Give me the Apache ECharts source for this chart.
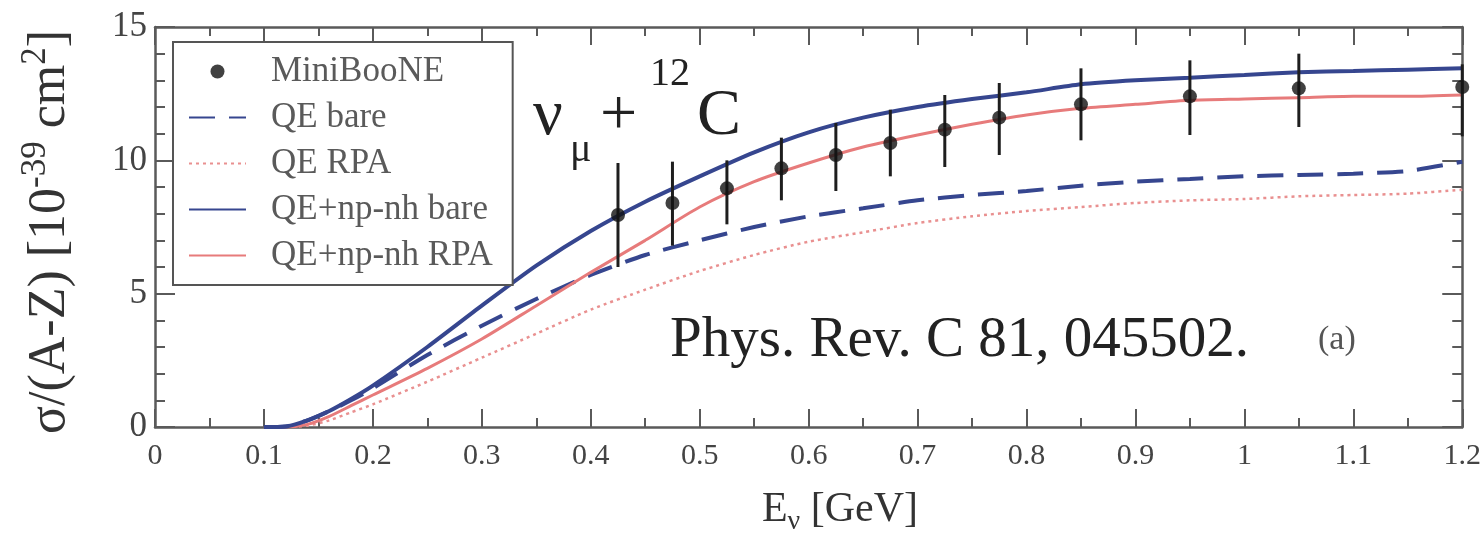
<!DOCTYPE html>
<html>
<head>
<meta charset="utf-8">
<script src="https://cdn.jsdelivr.net/npm/echarts@6/dist/echarts.min.js"></script>
<style>
  html, body { margin: 0; padding: 0; background: #ffffff; }
  #chart { width: 1484px; height: 541px; }
</style>
</head>
<body>
<div id="chart"></div>
<script>
// Neutrino energy grid [GeV] for the model curves
const energyGrid = [0.10, 0.12, 0.14, 0.16, 0.18, 0.20, 0.25, 0.30, 0.35, 0.40, 0.45, 0.50, 0.55,
                    0.60, 0.65, 0.70, 0.75, 0.80, 0.85, 0.90, 0.95, 1.00, 1.05, 1.10, 1.15, 1.20];

// Cross section per neutron, sigma/(A-Z) in 1e-39 cm^2
const qeBare     = [0.00, 0.02, 0.25, 0.60, 1.00, 1.45, 2.70, 3.80, 4.80, 5.70, 6.45, 7.00, 7.50,
                    7.90, 8.20, 8.50, 8.70, 8.85, 9.05, 9.20, 9.30, 9.40, 9.45, 9.50, 9.60, 9.95];
const qeRpa      = [0.00, 0.00, 0.05, 0.25, 0.55, 0.85, 1.70, 2.60, 3.50, 4.40, 5.15, 5.85, 6.45,
                    6.95, 7.30, 7.65, 7.90, 8.10, 8.25, 8.40, 8.50, 8.55, 8.65, 8.70, 8.75, 8.90];
const npnhBare   = [0.00, 0.02, 0.25, 0.60, 1.05, 1.55, 3.00, 4.55, 6.05, 7.35, 8.45, 9.40, 10.30,
                    11.05, 11.60, 12.00, 12.30, 12.55, 12.85, 13.00, 13.10, 13.20, 13.30, 13.35, 13.40, 13.45];
const npnhRpa    = [0.00, 0.00, 0.10, 0.40, 0.80, 1.20, 2.20, 3.30, 4.55, 5.80, 7.00, 8.25, 9.20,
                    9.90, 10.50, 10.95, 11.35, 11.70, 11.95, 12.10, 12.25, 12.30, 12.35, 12.40, 12.40, 12.45];

// MiniBooNE measurement with error bar ends
const miniX    = [0.425, 0.475, 0.525, 0.575, 0.625, 0.675, 0.725, 0.775, 0.85, 0.95, 1.05, 1.20];
const miniY    = [7.95, 8.40, 8.95, 9.70, 10.20, 10.65, 11.15, 11.60, 12.10, 12.40, 12.70, 12.75];
const miniLow  = [6.00, 6.80, 7.60, 8.50, 8.85, 9.40, 9.75, 10.20, 10.75, 10.95, 11.25, 10.90];
const miniHigh = [9.90, 9.95, 10.00, 10.85, 11.40, 11.90, 12.45, 12.90, 13.45, 13.75, 14.00, 13.60];

// Tick labels
const xTickLabels = ['0', '0.1', '0.2', '0.3', '0.4', '0.5', '0.6', '0.7', '0.8', '0.9', '1', '1.1', '1.2'];
const yTickLabels = ['0', '5', '10', '15'];

const legendNames = ['MiniBooNE', 'QE bare', 'QE RPA', 'QE+np-nh bare', 'QE+np-nh RPA'];

const SERIF = 'Liberation Serif';
const AXIS_COLOR = '#5a5a5a';
const BLUE = '#36468f';
const RED = '#e77b7b';
const PINK = '#e99090';

const pairs = ys => energyGrid.map((x, i) => [x, ys[i]]);

function xAxisDef(pos, labels) {
  return {
    type: 'value', min: 0, max: 1.2, interval: 0.1, position: pos,
    axisLine: { show: true, onZero: false, lineStyle: { color: AXIS_COLOR, width: 2.5 } },
    axisTick: { show: true, inside: true, length: 18, lineStyle: { color: AXIS_COLOR, width: 2 } },
    minorTick: { show: true, splitNumber: 2, length: 9, lineStyle: { color: AXIS_COLOR, width: 2 } },
    splitLine: { show: false },
    axisLabel: labels ? {
      show: true, fontFamily: SERIF, fontSize: 30, color: '#444', margin: 14,
      formatter: v => xTickLabels[Math.round(v * 10)]
    } : { show: false }
  };
}

function yAxisDef(pos, labels) {
  return {
    type: 'value', min: 0, max: 15, interval: 5, position: pos,
    axisLine: { show: true, onZero: false, lineStyle: { color: AXIS_COLOR, width: 2.5 } },
    axisTick: { show: true, inside: true, length: 20, lineStyle: { color: AXIS_COLOR, width: 2 } },
    minorTick: { show: true, splitNumber: 5, length: 10, lineStyle: { color: AXIS_COLOR, width: 2 } },
    splitLine: { show: false },
    axisLabel: labels ? {
      show: true, fontFamily: SERIF, fontSize: 35, color: '#444', margin: 8,
      formatter: v => yTickLabels[Math.round(v / 5)]
    } : { show: false }
  };
}

// legend entries: line entries show only their stroke, no marker
const legendData = legendNames.map(n => n === 'MiniBooNE'
  ? { name: n }
  : { name: n, itemStyle: { opacity: 0 } });

const chart = echarts.init(document.getElementById('chart'), null, { renderer: 'canvas' });

chart.setOption({
  animation: false,
  backgroundColor: '#ffffff',
  grid: { left: 155, right: 17, top: 27, bottom: 114, containLabel: false },
  xAxis: [xAxisDef('bottom', true), xAxisDef('top', false)],
  yAxis: [yAxisDef('left', true), yAxisDef('right', false)],
  legend: {
    data: legendData,
    orient: 'vertical', left: 173, top: 42,
    itemWidth: 57, itemHeight: 14, itemGap: 11,
    padding: [12, 20, 12, 15],
    borderColor: '#555', borderWidth: 2, backgroundColor: '#ffffff',
    selectedMode: false,
    textStyle: { fontFamily: SERIF, fontSize: 35, color: '#5a5a5a', lineHeight: 33, padding: [0, 0, 0, 20] }
  },
  series: [
    {
      name: 'QE RPA', type: 'line', data: pairs(qeRpa), smooth: 0.25, symbol: 'none',
      lineStyle: { color: PINK, width: 2.5, type: [3, 4] }, itemStyle: { color: PINK }, z: 2
    },
    {
      name: 'QE bare', type: 'line', data: pairs(qeBare), smooth: 0.25, symbol: 'none',
      lineStyle: { color: BLUE, width: 4, type: [26, 14] }, itemStyle: { color: BLUE }, z: 2
    },
    {
      name: 'QE+np-nh RPA', type: 'line', data: pairs(npnhRpa), smooth: 0.25, symbol: 'none',
      lineStyle: { color: RED, width: 3 }, itemStyle: { color: RED }, z: 3
    },
    {
      name: 'QE+np-nh bare', type: 'line', data: pairs(npnhBare), smooth: 0.25, symbol: 'none',
      lineStyle: { color: BLUE, width: 4 }, itemStyle: { color: BLUE }, z: 3
    },
    {
      type: 'custom', z: 4, silent: true,
      data: miniX.map((x, i) => [x, miniLow[i], miniHigh[i]]),
      encode: { x: 0, y: [1, 2] },
      renderItem(params, api) {
        const a = api.coord([api.value(0), api.value(1)]);
        const b = api.coord([api.value(0), api.value(2)]);
        return {
          type: 'line',
          shape: { x1: a[0], y1: a[1], x2: b[0], y2: b[1] },
          style: { stroke: '#1e1e1e', lineWidth: 3 }
        };
      }
    },
    {
      name: 'MiniBooNE', type: 'scatter', z: 5,
      data: miniX.map((x, i) => [x, miniY[i]]),
      symbol: 'circle', symbolSize: 14,
      itemStyle: { color: '#111111' }
    }
  ],
  graphic: [
    // reaction label
    { type: 'text', x: 533, y: 117, style: { text: 'ν', font: '66px "Liberation Serif"', fill: '#222', textVerticalAlign: 'middle' } },
    { type: 'text', x: 570, y: 150, style: { text: 'μ', font: '40px "Liberation Serif"', fill: '#222', textVerticalAlign: 'middle' } },
    { type: 'text', x: 600, y: 117, style: { text: '+', font: '66px "Liberation Serif"', fill: '#222', textVerticalAlign: 'middle' } },
    { type: 'text', x: 650, y: 74, style: { text: '12', font: '40px "Liberation Serif"', fill: '#222', textVerticalAlign: 'middle' } },
    { type: 'text', x: 697, y: 117, style: { text: 'C', font: '66px "Liberation Serif"', fill: '#222', textVerticalAlign: 'middle' } },
    // reference
    { type: 'text', x: 670, y: 341, style: { text: 'Phys. Rev. C 81, 045502.', font: '57px "Liberation Serif"', fill: '#222', textVerticalAlign: 'middle' } },
    { type: 'text', x: 1318, y: 340, style: { text: '(a)', font: '34px "Liberation Serif"', fill: '#555', textVerticalAlign: 'middle' } },
    // x-axis title
    {
      type: 'text', x: 840, y: 510,
      style: {
        text: '{m|E}{s|ν}{m| [GeV]}', textAlign: 'center', textVerticalAlign: 'middle', fill: '#333',
        rich: {
          m: { fontFamily: SERIF, fontSize: 42, lineHeight: 52, fill: '#333' },
          s: { fontFamily: SERIF, fontSize: 28, verticalAlign: 'bottom', fill: '#333' }
        }
      }
    },
    // y-axis title
    {
      type: 'text', x: 50, y: 232, rotation: Math.PI / 2,
      style: {
        text: '{m|σ/(A-Z) [10}{s|-39}{m| cm}{s|2}{m|]}', textAlign: 'center', textVerticalAlign: 'middle', fill: '#333',
        rich: {
          m: { fontFamily: SERIF, fontSize: 52, lineHeight: 64, fill: '#333' },
          s: { fontFamily: SERIF, fontSize: 35, verticalAlign: 'top', fill: '#333' }
        }
      }
    }
  ]
});
</script>
</body>
</html>
